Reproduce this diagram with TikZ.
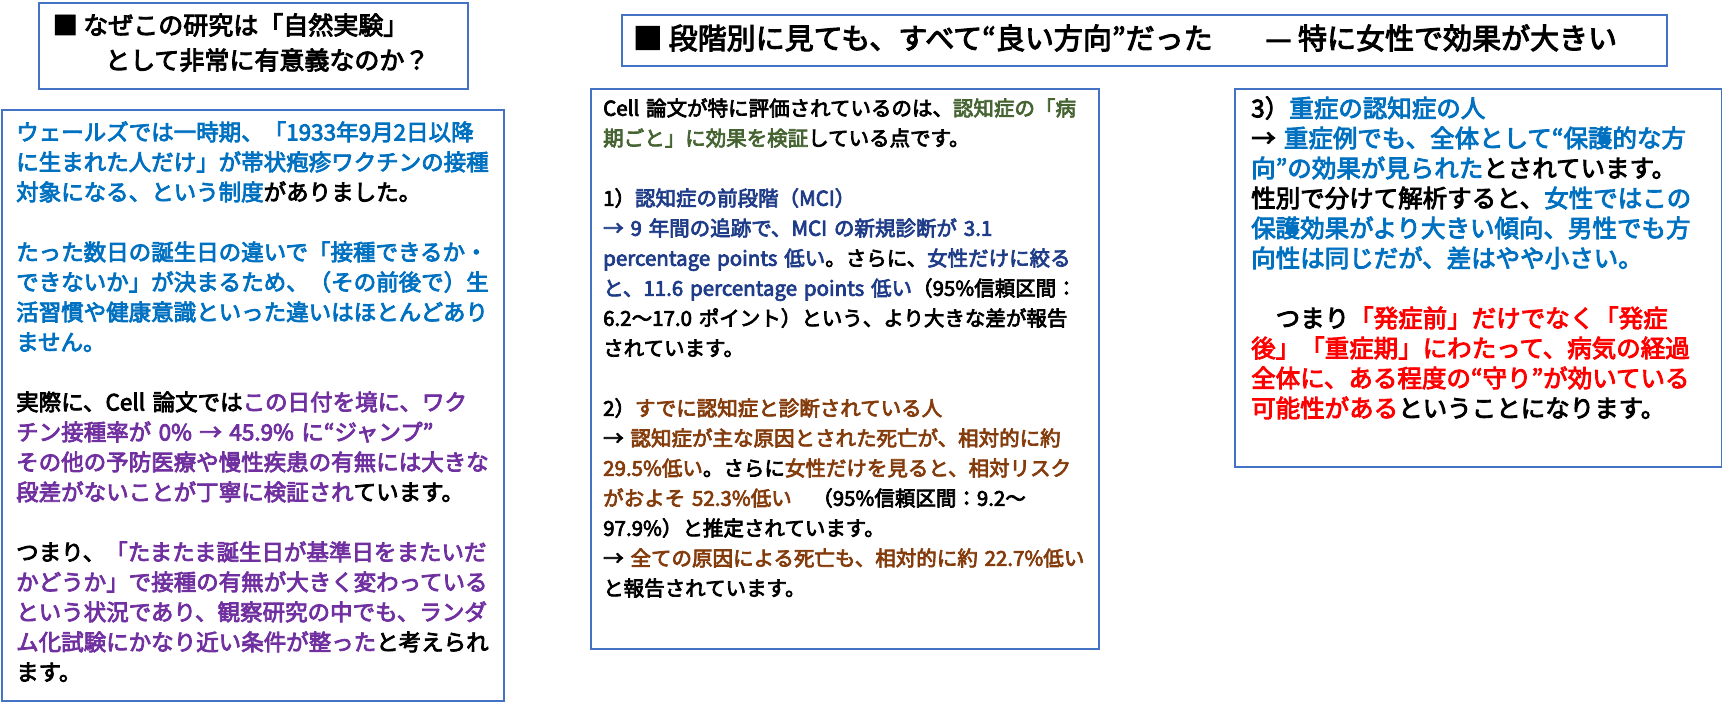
\documentclass[tikz,border=0pt]{standalone}
\usepackage{fontspec}
\setmainfont{Noto Sans CJK JP}[FakeBold=3.5]
\definecolor{borderC}{HTML}{4472C4}
\definecolor{blueT}{HTML}{0070C0}
\definecolor{purpleT}{HTML}{7030A0}
\definecolor{greenT}{HTML}{466432}
\definecolor{navyT}{HTML}{1F3C88}
\definecolor{brownT}{HTML}{843C0C}
\definecolor{redT}{HTML}{FF0000}
\begin{document}
\begin{tikzpicture}[x=1pt,y=-1pt,
  box/.style={draw=borderC, line width=1.8pt, inner sep=0pt, anchor=north west},
  bodytext/.style={anchor=base west, inner sep=0pt, text width=900pt, align=left},
  titletext/.style={anchor=base west, inner sep=0pt},
]
\useasboundingbox (0,0) rectangle (1722,703);
% boxes
\node[box, minimum width=429pt, minimum height=86pt] (titleA) at (38,2) {};
\node[box, minimum width=502pt, minimum height=591pt] (bodyA) at (1,109) {};
\node[box, minimum width=1045pt, minimum height=51pt] (titleB) at (621,14) {};
\node[box, minimum width=508pt, minimum height=560pt] (bodyB) at (590,88) {};
\node[box, minimum width=487pt, minimum height=378pt] (bodyC) at (1234,88) {};
% titles
\node[titletext, font=\fontsize{25pt}{35pt}\selectfont] (titleAone) at (52.5,34.5) {■ なぜこの研究は「自然実験」};
\node[titletext, font=\fontsize{25pt}{35pt}\selectfont] (titleAtwo) at (105,69.5) {として非常に有意義なのか？};
\node[titletext, font=\fontsize{29pt}{35pt}\selectfont] (titleBtext) at (633,49) {■ 段階別に見ても、すべて“良い方向”だった\hspace{53pt}— 特に女性で効果が大きい};
% left body
\node[bodytext, font=\fontsize{22.5pt}{30pt}\selectfont] (textA) at (16,140.5) {%
\textcolor{blueT}{ウェールズでは一時期、「1933年9月2日以降}\\
\textcolor{blueT}{に生まれた人だけ」が帯状疱疹ワクチンの接種}\\
\textcolor{blueT}{対象になる、という制度}がありました。\\[30pt]
\textcolor{blueT}{たった数日の誕生日の違いで「接種できるか・}\\
\textcolor{blueT}{できないか」が決まるため、（その前後で）生}\\
\textcolor{blueT}{活習慣や健康意識といった違いはほとんどあり}\\
\textcolor{blueT}{ません。}\\[30pt]
実際に、Cell 論文では\textcolor{purpleT}{この日付を境に、ワク}\\
\textcolor{purpleT}{チン接種率が 0\% → 45.9\% に“ジャンプ”}\\
\textcolor{purpleT}{その他の予防医療や慢性疾患の有無には大きな}\\
\textcolor{purpleT}{段差がないことが丁寧に検証され}ています。\\[30pt]
つまり、\textcolor{purpleT}{「たまたま誕生日が基準日をまたいだ}\\
\textcolor{purpleT}{かどうか」で接種の有無が大きく変わっている}\\
\textcolor{purpleT}{という状況であり、観察研究の中でも、ランダ}\\
\textcolor{purpleT}{ム化試験にかなり近い条件が整った}と考えられ\\
ます。};
% middle body
\node[bodytext, font=\fontsize{20.5pt}{30pt}\selectfont] (textB) at (603,115.8) {%
Cell 論文が特に評価されているのは、\textcolor{greenT}{認知症の「病}\\
\textcolor{greenT}{期ごと」に効果を検証}している点です。\\[30pt]
1）\textcolor{navyT}{認知症の前段階（MCI）}\\
\textcolor{navyT}{→ 9 年間の追跡で、MCI の新規診断が 3.1}\\
\textcolor{navyT}{percentage points 低い}。さらに、\textcolor{navyT}{女性だけに絞る}\\
\textcolor{navyT}{と、11.6 percentage points 低い}（95\%信頼区間：\\
6.2～17.0 ポイント）という、より大きな差が報告\\
されています。\\[30pt]
2）\textcolor{brownT}{すでに認知症と診断されている人}\\
→ \textcolor{brownT}{認知症が主な原因とされた死亡が、相対的に約}\\
\textcolor{brownT}{29.5\%低い}。さらに\textcolor{brownT}{女性だけを見ると、相対リスク}\\
\textcolor{brownT}{がおよそ 52.3\%低い}　（95\%信頼区間：9.2～\\
97.9\%）と推定されています。\\
→ \textcolor{brownT}{全ての原因による死亡も、相対的に約 22.7\%低い}\\
と報告されています。};
% right body
\node[bodytext, font=\fontsize{24.5pt}{30pt}\selectfont] (textC) at (1251,117.3) {%
3）\textcolor{blueT}{重症の認知症の人}\\
→ \textcolor{blueT}{重症例でも、全体として“保護的な方}\\
\textcolor{blueT}{向”の効果が見られた}とされています。\\
性別で分けて解析すると、\textcolor{blueT}{女性ではこの}\\
\textcolor{blueT}{保護効果がより大きい傾向、男性でも方}\\
\textcolor{blueT}{向性は同じだが、差はやや小さい。}\\[30pt]
　つまり\textcolor{redT}{「発症前」だけでなく「発症}\\
\textcolor{redT}{後」「重症期」にわたって、病気の経過}\\
\textcolor{redT}{全体に、ある程度の“守り”が効いている}\\
\textcolor{redT}{可能性がある}ということになります。};
\end{tikzpicture}
\end{document}
